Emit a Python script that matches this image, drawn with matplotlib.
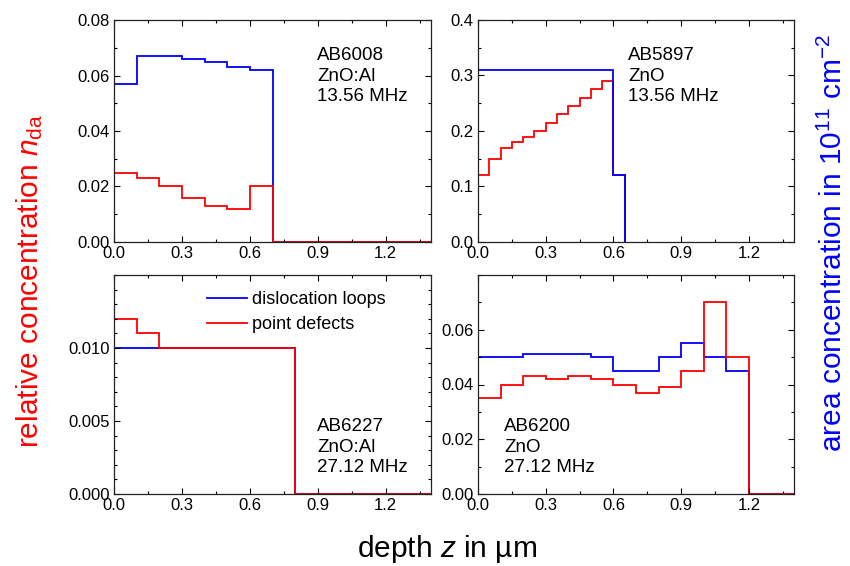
import numpy as np
import matplotlib
matplotlib.use('Agg')
import matplotlib.pyplot as plt
from matplotlib.ticker import MultipleLocator

plt.rcParams['font.family'] = ['Liberation Sans', 'DejaVu Sans']
plt.rcParams['mathtext.fontset'] = 'custom'
plt.rcParams['mathtext.rm'] = 'Liberation Sans'
plt.rcParams['mathtext.it'] = 'Liberation Sans:italic'

# AB6008 ZnO:Al 13.56 MHz
edges_6008 = [0.0, 0.1, 0.2, 0.3, 0.4, 0.5, 0.6, 0.7, 1.4]
loops_6008 = [0.057, 0.067, 0.067, 0.066, 0.065, 0.063, 0.062, 0.0]
points_6008 = [0.025, 0.023, 0.020, 0.016, 0.013, 0.012, 0.020, 0.0]

# AB5897 ZnO 13.56 MHz
edges_5897_loops = [0.0, 0.6, 0.65]
loops_5897 = [0.31, 0.12]
edges_5897_points = [0.0, 0.05, 0.1, 0.15, 0.2, 0.25, 0.3, 0.35, 0.4, 0.45, 0.5, 0.55, 0.6, 0.65]
points_5897 = [0.12, 0.15, 0.17, 0.18, 0.19, 0.20, 0.215, 0.23, 0.245, 0.26, 0.275, 0.29, 0.12]

# AB6227 ZnO:Al 27.12 MHz
edges_6227 = [0.0, 0.1, 0.2, 0.8, 1.4]
loops_6227 = [0.010, 0.010, 0.010, 0.0]
points_6227 = [0.012, 0.011, 0.010, 0.0]

# AB6200 ZnO 27.12 MHz
edges_6200 = [0.0, 0.1, 0.2, 0.3, 0.4, 0.5, 0.6, 0.7, 0.8, 0.9, 1.0, 1.1, 1.2, 1.4]
loops_6200 = [0.050, 0.050, 0.051, 0.051, 0.051, 0.050, 0.045, 0.045, 0.050, 0.055, 0.050, 0.045, 0.0]
points_6200 = [0.035, 0.040, 0.043, 0.042, 0.043, 0.042, 0.040, 0.037, 0.039, 0.045, 0.070, 0.050, 0.0]

W, H = 850, 566
fig = plt.figure(figsize=(8.5, 5.66), dpi=100)

def make_ax(x0, x1, ytop, ybot):
    return fig.add_axes([x0 / W, 1 - ybot / H, (x1 - x0) / W, (ybot - ytop) / H])

ax1 = make_ax(114, 431, 20, 242)
ax2 = make_ax(478, 794, 20, 242)
ax3 = make_ax(114, 431, 275, 494)
ax4 = make_ax(478, 794, 275, 494)

blue = '#0000ff'
red = '#ff0000'
lw = 1.3

ax1.stairs(loops_6008, edges_6008, color=blue, lw=lw, baseline=0)
ax1.stairs(points_6008, edges_6008, color=red, lw=lw, baseline=0)

ax2.stairs(points_5897, edges_5897_points, color=red, lw=lw, baseline=0)
ax2.stairs(loops_5897, edges_5897_loops, color=blue, lw=lw, baseline=0)

ax3.stairs(loops_6227, edges_6227, color=blue, lw=lw, baseline=0, label='dislocation loops')
ax3.stairs(points_6227, edges_6227, color=red, lw=lw, baseline=0, label='point defects')

ax4.stairs(loops_6200, edges_6200, color=blue, lw=lw, baseline=0)
ax4.stairs(points_6200, edges_6200, color=red, lw=lw, baseline=0)

# axis limits and ticks
ylims = [(0, 0.08), (0, 0.4), (0, 0.015), (0, 0.08)]
majors = [0.02, 0.1, 0.005, 0.02]
fmts = ['%.2f', '%.1f', '%.3f', '%.2f']
for ax, yl, mj, fm in zip([ax1, ax2, ax3, ax4], ylims, majors, fmts):
    ax.set_xlim(0, 1.4)
    ax.set_ylim(*yl)
    ax.xaxis.set_major_locator(MultipleLocator(0.3))
    ax.xaxis.set_minor_locator(MultipleLocator(0.15))
    ax.yaxis.set_major_locator(MultipleLocator(mj))
    ax.yaxis.set_minor_locator(MultipleLocator(mj / 2))
    ax.tick_params(which='both', direction='in', top=True, right=True, labelsize=12, pad=3)
    ax.tick_params(which='major', length=4, width=0.8)
    ax.tick_params(which='minor', length=2.5, width=0.8)
    ax.set_xticks([0.0, 0.3, 0.6, 0.9, 1.2])
    ax.set_xticklabels(['%.1f' % v for v in [0.0, 0.3, 0.6, 0.9, 1.2]])
    ticks = np.arange(yl[0], yl[1] + 1e-9, mj)
    if ax in (ax3, ax4):
        ticks = ticks[:-1]
    ax.set_yticks(ticks)
    ax.set_yticklabels([fm % v for v in ticks])
    for s in ax.spines.values():
        s.set_linewidth(0.9)
        s.set_color('#222222')

ax3.yaxis.set_minor_locator(MultipleLocator(0.001))

# sample labels
fs = 13.5
ls = 1.28
ax1.text(0.64, 0.878, 'AB6008\nZnO:Al\n13.56 MHz', transform=ax1.transAxes, fontsize=fs, va='top', linespacing=ls)
ax2.text(0.476, 0.878, 'AB5897\nZnO\n13.56 MHz', transform=ax2.transAxes, fontsize=fs, va='top', linespacing=ls)
ax3.text(0.64, 0.347, 'AB6227\nZnO:Al\n27.12 MHz', transform=ax3.transAxes, fontsize=fs, va='top', linespacing=ls)
ax4.text(0.082, 0.347, 'AB6200\nZnO\n27.12 MHz', transform=ax4.transAxes, fontsize=fs, va='top', linespacing=ls)

ax3.legend(loc='upper left', bbox_to_anchor=(0.27, 0.96), frameon=False, fontsize=13,
           handlelength=2.2, handletextpad=0.3, labelspacing=0.45, borderaxespad=0)

fig.text(447 / W, 1 - 549 / H, 'depth $z$ in µm', fontsize=21.5, ha='center', va='center')
fig.text(30 / W, 1 - 281 / H, 'relative concentration $n_{\\mathrm{da}}$', fontsize=21.5,
         color=red, rotation=90, ha='center', va='center')
fig.text(833 / W, 1 - 243 / H, 'area concentration in 10$^{11}$ cm$^{-2}$', fontsize=21.5,
         color=blue, rotation=90, ha='center', va='center')

fig.savefig('out.png', dpi=100)
